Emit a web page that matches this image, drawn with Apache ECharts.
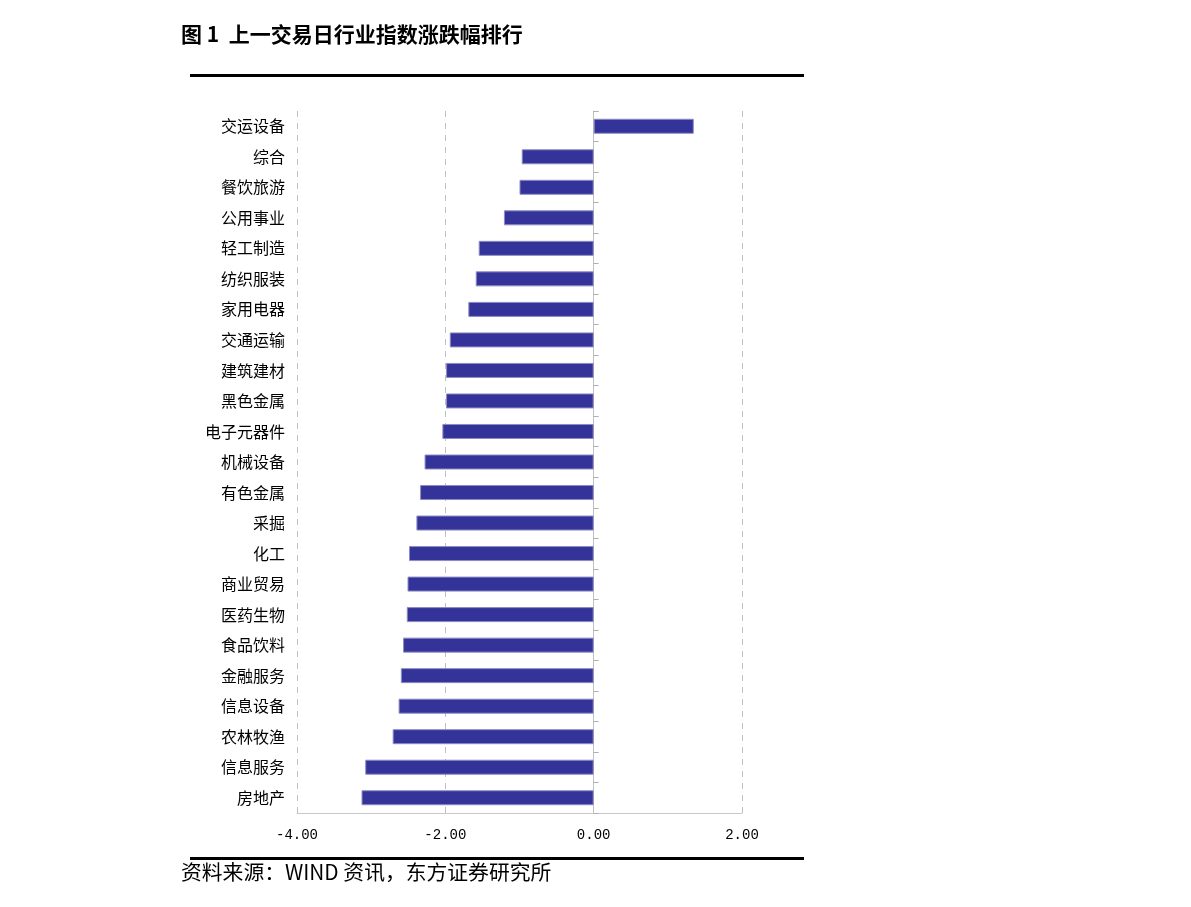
<!DOCTYPE html>
<html>
<head>
<meta charset="utf-8">
<script src="https://cdn.jsdelivr.net/npm/echarts@6/dist/echarts.min.js"></script>
<style>
html,body{margin:0;padding:0;background:#fff;}
#chart{width:1191px;height:907px;}
</style>
</head>
<body>
<div id="chart"></div>
<script>
var titleText = '图 1  上一交易日行业指数涨跌幅排行';
var sourceText = '资料来源：WIND 资讯，东方证券研究所';
var categories = ['交运设备','综合','餐饮旅游','公用事业','轻工制造','纺织服装','家用电器','交通运输','建筑建材','黑色金属','电子元器件','机械设备','有色金属','采掘','化工','商业贸易','医药生物','食品饮料','金融服务','信息设备','农林牧渔','信息服务','房地产'];
var values = [1.35,-0.97,-1.00,-1.21,-1.55,-1.59,-1.69,-1.94,-1.99,-1.99,-2.04,-2.28,-2.34,-2.39,-2.49,-2.51,-2.52,-2.57,-2.60,-2.63,-2.71,-3.08,-3.13];
var xMin = -4, xMax = 2, xInterval = 2;

var chart = echarts.init(document.getElementById('chart'), null, {renderer:'canvas'});
var cjk = '"Noto Sans CJK SC", sans-serif';
chart.setOption({
  backgroundColor:'#ffffff',
  animation:false,
  grid:{left:297, right:449, top:111, bottom:94, containLabel:false},
  xAxis:{
    type:'value', min:xMin, max:xMax, interval:xInterval,
    axisLine:{show:true, onZero:false, lineStyle:{color:'#c8c8c8', width:1}},
    axisTick:{show:false},
    axisLabel:{margin:15, color:'#000', fontSize:14, fontFamily:'"Liberation Mono", monospace',
      formatter:function(v){return v.toFixed(2);}},
    splitLine:{show:true, lineStyle:{color:'#c0c0c0', type:[6,6], width:1}}
  },
  yAxis:[
    {type:'category', data:categories, inverse:true, position:'left',
     axisLine:{show:false, onZero:false}, axisTick:{show:false},
     axisLabel:{margin:12, color:'#000', fontSize:16, fontFamily:cjk}},
    {type:'category', data:categories, inverse:true, position:'left',
     axisLine:{show:true, onZero:true, lineStyle:{color:'#c0c0c0', width:1}},
     axisTick:{show:true, inside:true, length:5, lineStyle:{color:'#b0b0b0'}},
     axisLabel:{show:false}}
  ],
  series:[{
    type:'bar', data:values, yAxisIndex:0, barWidth:15,
    itemStyle:{color:'#333399', borderColor:'#8c8cc4', borderWidth:1}
  }],
  graphic:[
    {type:'text', left:181, top:24, style:{text:titleText, font:'bold 21px "Noto Sans CJK SC", sans-serif', fill:'#000'}},
    {type:'rect', shape:{x:190, y:74, width:614, height:3}, style:{fill:'#000'}},
    {type:'rect', shape:{x:190, y:857, width:614, height:3}, style:{fill:'#000'}},
    {type:'text', left:181, top:862, style:{text:sourceText, font:'20.8px "Noto Sans CJK SC", sans-serif', fill:'#000'}}
  ]
});
</script>
</body>
</html>
